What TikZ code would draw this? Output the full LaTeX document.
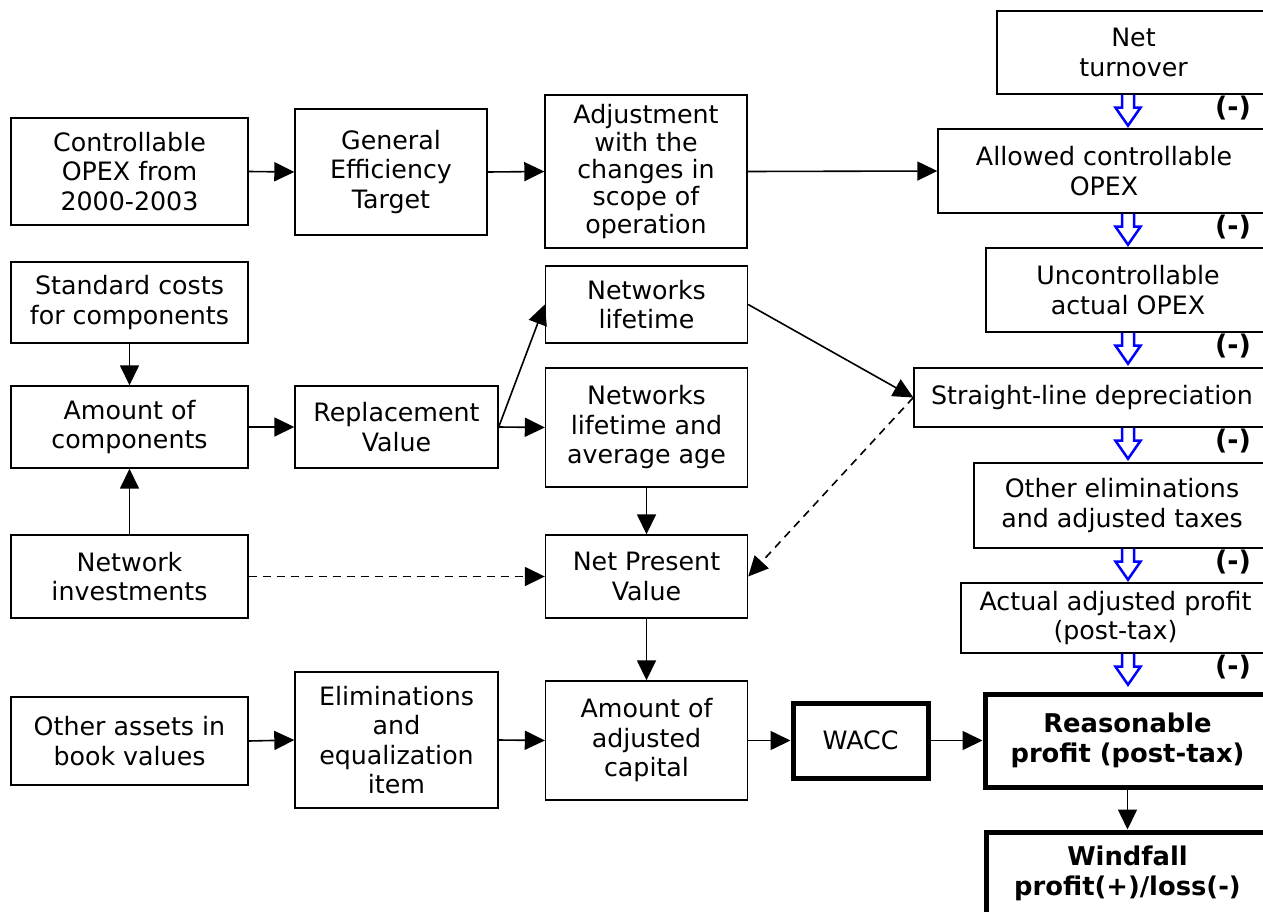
\documentclass[tikz,border=0pt]{standalone}
\usepackage{fontspec}
\setmainfont{DejaVu Sans}
\usetikzlibrary{arrows.meta,calc}

\newcommand\boxfont{\fontsize{25.3}{29.5}\selectfont}
\newcommand\tightfont{\fontsize{25.3}{27.3}\selectfont}
\newcommand\heavyfont{\fontsize{25.8}{29.5}\selectfont\bfseries}

% hollow blue step arrow below a box of the right-hand column, with its "(-)" mark
\newcommand\minusstep[2]{%
  \draw[hollow] let \p1=(mx|-#1.south) in
    ({\x1-6pt},\y1) -- ({\x1-6pt},{\y1-13pt}) -- ({\x1-12.5pt},{\y1-13pt}) --
    (\x1,{\y1-31pt}) -- ({\x1+12.5pt},{\y1-13pt}) -- ({\x1+6pt},{\y1-13pt}) --
    ({\x1+6pt},\y1);
  \node[minus] (#2) at ($(lx|-#1.south)+(0,13)$) {(-)};
}

\begin{document}
\begin{tikzpicture}[x=1pt,y=-1pt,
  box/.style={draw, line width=1.4pt, align=center, inner sep=0pt, font=\boxfont},
  heavy/.style={box, line width=5pt, font=\heavyfont},
  conn/.style={line width=1.6pt, -{Triangle[length=20pt,width=19pt]}},
  dconn/.style={conn, dash pattern=on 8pt off 6pt},
  hollow/.style={draw=blue, line width=2.5pt, line join=miter},
  minus/.style={font=\fontsize{27}{30}\selectfont\bfseries, inner sep=0pt}]

\useasboundingbox (0,0) rectangle (1263,912);
\clip (0,0) rectangle (1263,912);
\fill[white] (0,0) rectangle (1263,912);

\coordinate (mx) at (1128,0);
\coordinate (lx) at (1233,0);

% left-hand and middle columns
\node[box, minimum width=237, minimum height=107] (ctrl) at (129.5,171.5) {Controllable\\OPEX from\\2000-2003};
\node[box, minimum width=192, minimum height=126] (get) at (391,172) {General\\Efficiency\\Target};
\node[box, minimum width=202, minimum height=153, font=\tightfont] (adj) at (646,171.5) {Adjustment\\with the\\changes in\\scope of\\operation};
\node[box, minimum width=237, minimum height=81] (scc) at (129.5,302.5) {Standard costs\\for components};
\node[box, minimum width=237, minimum height=82] (aoc) at (129.5,427) {Amount of\\components};
\node[box, minimum width=203, minimum height=82] (rv) at (396.5,427) {Replacement\\Value};
\node[box, minimum width=202, minimum height=77] (nl) at (646.5,304.5) {Networks\\lifetime};
\node[box, minimum width=202, minimum height=119] (nla) at (646.5,427.5) {Networks\\lifetime and\\average age};
\node[box, minimum width=237, minimum height=83] (ni) at (129.5,576.5) {Network\\investments};
\node[box, minimum width=202, minimum height=83] (npv) at (646.5,576.5) {Net Present\\Value};
\node[box, minimum width=237, minimum height=88] (oab) at (129.5,741) {Other assets in\\book values};
\node[box, minimum width=203, minimum height=136] (eei) at (396.5,740) {Eliminations\\and\\equalization\\item};
\node[box, minimum width=202, minimum height=119] (aac) at (646.5,740.5) {Amount of\\adjusted\\capital};
\node[heavy, minimum width=135, minimum height=75, font=\boxfont] (wacc) at (860.5,740.5) {WACC};

% right-hand column
\node[box, minimum width=273, minimum height=83] (nt) at (1133.5,52.5) {Net\\turnover};
\node[box, minimum width=332, minimum height=84] (aco) at (1104,171) {Allowed controllable\\OPEX};
\node[box, minimum width=284, minimum height=84] (uao) at (1128,290) {Uncontrollable\\actual OPEX};
\node[box, minimum width=356, minimum height=59] (sld) at (1092,397.5) {Straight-line depreciation};
\node[box, minimum width=296, minimum height=85] (oe) at (1122,505.5) {Other eliminations\\and adjusted taxes};
\node[box, minimum width=309, minimum height=70] (aap) at (1115.5,618) {Actual adjusted profit\\(post-tax)};
\node[heavy, minimum width=285, minimum height=93] (rp) at (1127.5,740.5) {Reasonable\\profit (post-tax)};
\node[heavy, minimum width=283, minimum height=83] (wf) at (1127.5,873.5) {Windfall\\profit(+)/loss(-)};

% subtraction steps
\minusstep{nt}{m1}
\minusstep{aco}{m2}
\minusstep{uao}{m3}
\minusstep{sld}{m4}
\minusstep{oe}{m5}
\minusstep{aap}{m6}

% connectors
\draw[conn] (ctrl.east) -- (get.west);
\draw[conn] (get.east) -- (adj.west);
\draw[conn] (adj.east) -- (aco.west);
\draw[conn] (scc.south) -- (aoc.north);
\draw[conn] (ni.north) -- (aoc.south);
\draw[conn] (aoc.east) -- (rv.west);
\draw[conn] (rv.east) -- (nl.west);
\draw[conn] (rv.east) -- (nla.west);
\draw[conn] (nl.east) -- (sld.west);
\draw[dconn] (sld.west) -- (npv.east);
\draw[conn] (nla.south) -- (npv.north);
\draw[dconn] (ni.east) -- (npv.west);
\draw[conn] (npv.south) -- (aac.north);
\draw[conn] (oab.east) -- (eei.west);
\draw[conn] (eei.east) -- (aac.west);
\draw[conn] (aac.east) -- (wacc.west);
\draw[conn] (wacc.east) -- (rp.west);
\draw[conn] (rp.south) -- (wf.north);
\end{tikzpicture}
\end{document}
